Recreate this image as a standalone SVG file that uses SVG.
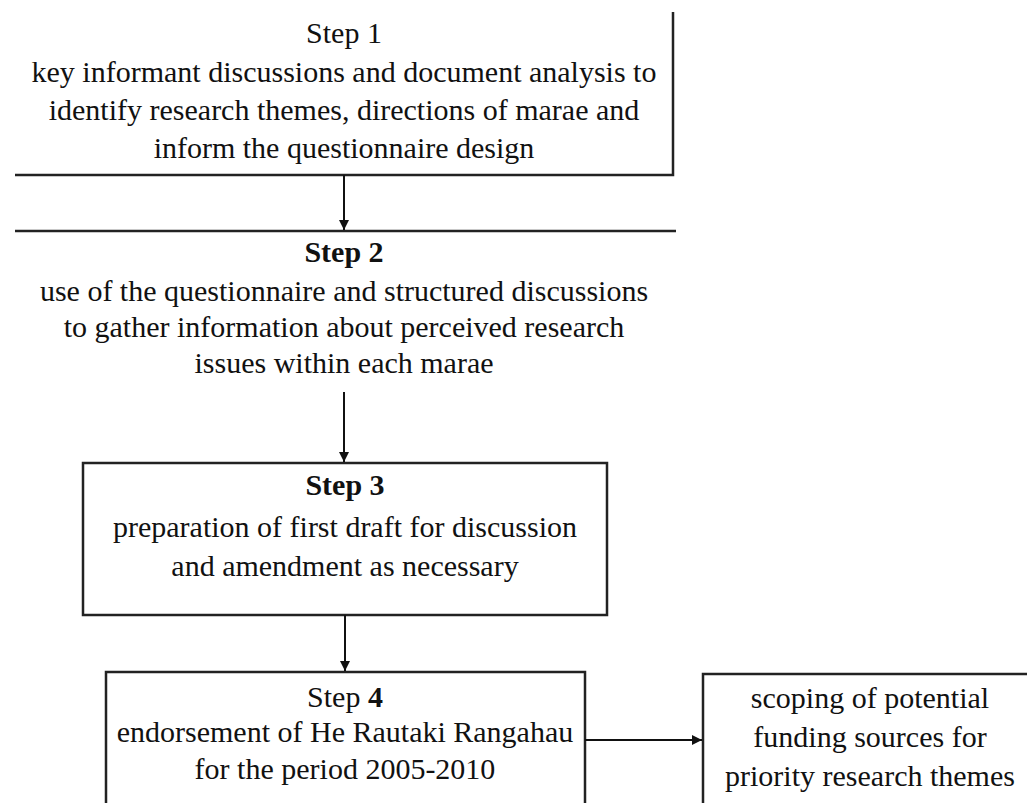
<svg xmlns="http://www.w3.org/2000/svg" width="1027" height="803" viewBox="0 0 1027 803">
<defs>
<style>
.t{font-family:"Liberation Serif","Times New Roman",serif;font-size:30px;fill:#111;text-anchor:middle}
.b{font-weight:bold}
.ln{stroke:#222;stroke-width:2.5;fill:none}
.bx{stroke:#222;stroke-width:2.5;fill:#fff}
.cn{stroke:#111;stroke-width:2;fill:none}
</style>
<marker id="ah" viewBox="0 0 10 10" refX="10" refY="5" markerWidth="10" markerHeight="10" markerUnits="userSpaceOnUse" orient="auto">
<path d="M0,0 L10,5 L0,10 z" fill="#111"/>
</marker>
</defs>
<rect width="1027" height="803" fill="#fff"/>
<g id="step1">
<path class="ln" d="M15,175 H673 V12"/>
<text class="t" x="344" y="43">Step 1</text>
<text class="t" x="344" y="82">key informant discussions and document analysis to</text>
<text class="t" x="344" y="120">identify research themes, directions of marae and</text>
<text class="t" x="344" y="158">inform the questionnaire design</text>
</g>
<g id="step2">
<path class="ln" d="M15,231 H676"/>
<text class="t b" x="344" y="262">Step 2</text>
<text class="t" x="344" y="301">use of the questionnaire and structured discussions</text>
<text class="t" x="344" y="337">to gather information about perceived research</text>
<text class="t" x="344" y="373">issues within each marae</text>
</g>
<g id="step3">
<rect class="bx" x="83" y="463" width="524" height="152"/>
<text class="t b" x="345" y="495">Step 3</text>
<text class="t" x="345" y="537">preparation of first draft for discussion</text>
<text class="t" x="345" y="576">and amendment as necessary</text>
</g>
<g id="step4">
<rect class="bx" x="106" y="672" width="479" height="140"/>
<text class="t" x="345" y="707">Step <tspan class="b">4</tspan></text>
<text class="t" x="345" y="742">endorsement of He Rautaki Rangahau</text>
<text class="t" x="345" y="779">for the period 2005-2010</text>
</g>
<g id="funding">
<rect class="bx" x="703" y="674" width="340" height="140"/>
<text class="t" x="870" y="708">scoping of potential</text>
<text class="t" x="870" y="747">funding sources for</text>
<text class="t" x="870" y="786">priority research themes</text>
</g>
<g id="connectors">
<path class="cn" d="M344,175 V230" marker-end="url(#ah)"/>
<path class="cn" d="M344,392 V462" marker-end="url(#ah)"/>
<path class="cn" d="M345,615 V671" marker-end="url(#ah)"/>
<path class="cn" d="M585,740 H702" marker-end="url(#ah)"/>
</g>
</svg>
